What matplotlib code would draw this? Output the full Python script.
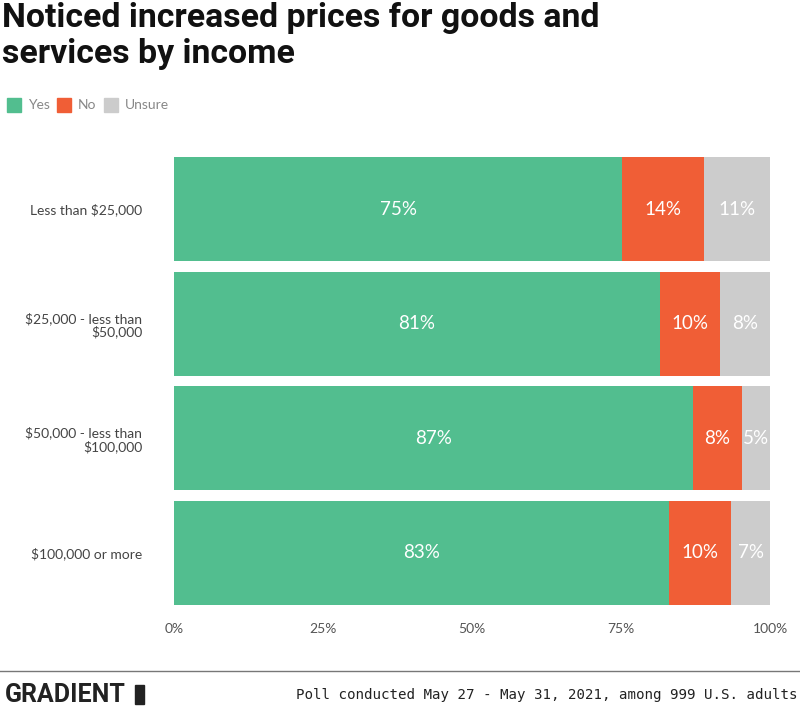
import matplotlib.pyplot as plt
import numpy as np
from matplotlib.patches import Rectangle

groups = ["Less than $25,000", "$25,000 - less than\n$50,000",
          "$50,000 - less than\n$100,000", "$100,000 or more"]
yes = [75.2, 81.5, 87.1, 83.1]
no = [13.7, 10.1, 8.2, 10.4]
unsure = [11.1, 8.4, 4.7, 6.5]
yes_lbl = ["75%", "81%", "87%", "83%"]
no_lbl = ["14%", "10%", "8%", "10%"]
unsure_lbl = ["11%", "8%", "5%", "7%"]
series = ["Yes", "No", "Unsure"]
colors = ["#52be8f", "#f05e36", "#cccccc"]

fig = plt.figure(figsize=(8, 7.11), dpi=100)
ax = fig.add_axes([174/800, 1-605/711, 596/800, 448/711])

h = 0.907
y = np.arange(len(groups))
left = np.zeros(len(groups))
for vals, lbls, c in zip([yes, no, unsure], [yes_lbl, no_lbl, unsure_lbl], colors):
    vals = np.array(vals)
    ax.barh(y, vals, left=left, height=h, color=c, linewidth=0)
    for yi, l, v, t in zip(y, left, vals, lbls):
        ax.text(l + v/2, yi, t, ha="center", va="center", color="white",
                fontsize=13.5, family="Lato")
    left += vals

ax.set_xlim(0, 100)
ax.set_ylim(3 + h/2, -h/2)
ax.set_yticks(y)
ax.set_yticklabels(groups, fontsize=10, color="#444444", family="Lato", linespacing=1.1)
ax.set_xticks([0, 25, 50, 75, 100])
ax.set_xticklabels(["0%", "25%", "50%", "75%", "100%"], fontsize=10, color="#555555", family="Lato")
ax.tick_params(length=0, axis="y", pad=23)
ax.tick_params(length=0, axis="x", pad=13)
for s in ax.spines.values():
    s.set_visible(False)

# title
fig.text(2/800, 1-2/711, "Noticed increased prices for goods and\nservices by income",
         ha="left", va="top", fontsize=24.4, fontweight="bold", family="Roboto",
         linespacing=1.15, color="#111111")

# legend
lx = 7
for name, c, step in zip(series, colors, [50, 47, 0]):
    fig.patches.append(Rectangle((lx/800, 1-112/711), 14/800, 14/711,
                                 transform=fig.transFigure, color=c))
    fig.text((lx+21)/800, 1-105/711, name, ha="left", va="center",
             fontsize=10, color="#888888", family="Lato")
    lx += step

# footer
fig.add_artist(plt.Line2D([0, 1], [1-671/711, 1-671/711], color="#777777", linewidth=1,
                          transform=fig.transFigure))
fig.text(5/800, 1-695/711, "GRADIENT", ha="left", va="center", fontsize=18,
         fontweight="bold", family="Roboto", color="#222222")
fig.patches.append(Rectangle((135/800, 1-704/711), 9/800, 19/711,
                             transform=fig.transFigure, color="#222222"))
fig.text(798/800, 1-695/711, "Poll conducted May 27 - May 31, 2021, among 999 U.S. adults",
         ha="right", va="center", fontsize=10.2, family="DejaVu Sans Mono", color="#222222")

fig.savefig("out.png", dpi=100)
